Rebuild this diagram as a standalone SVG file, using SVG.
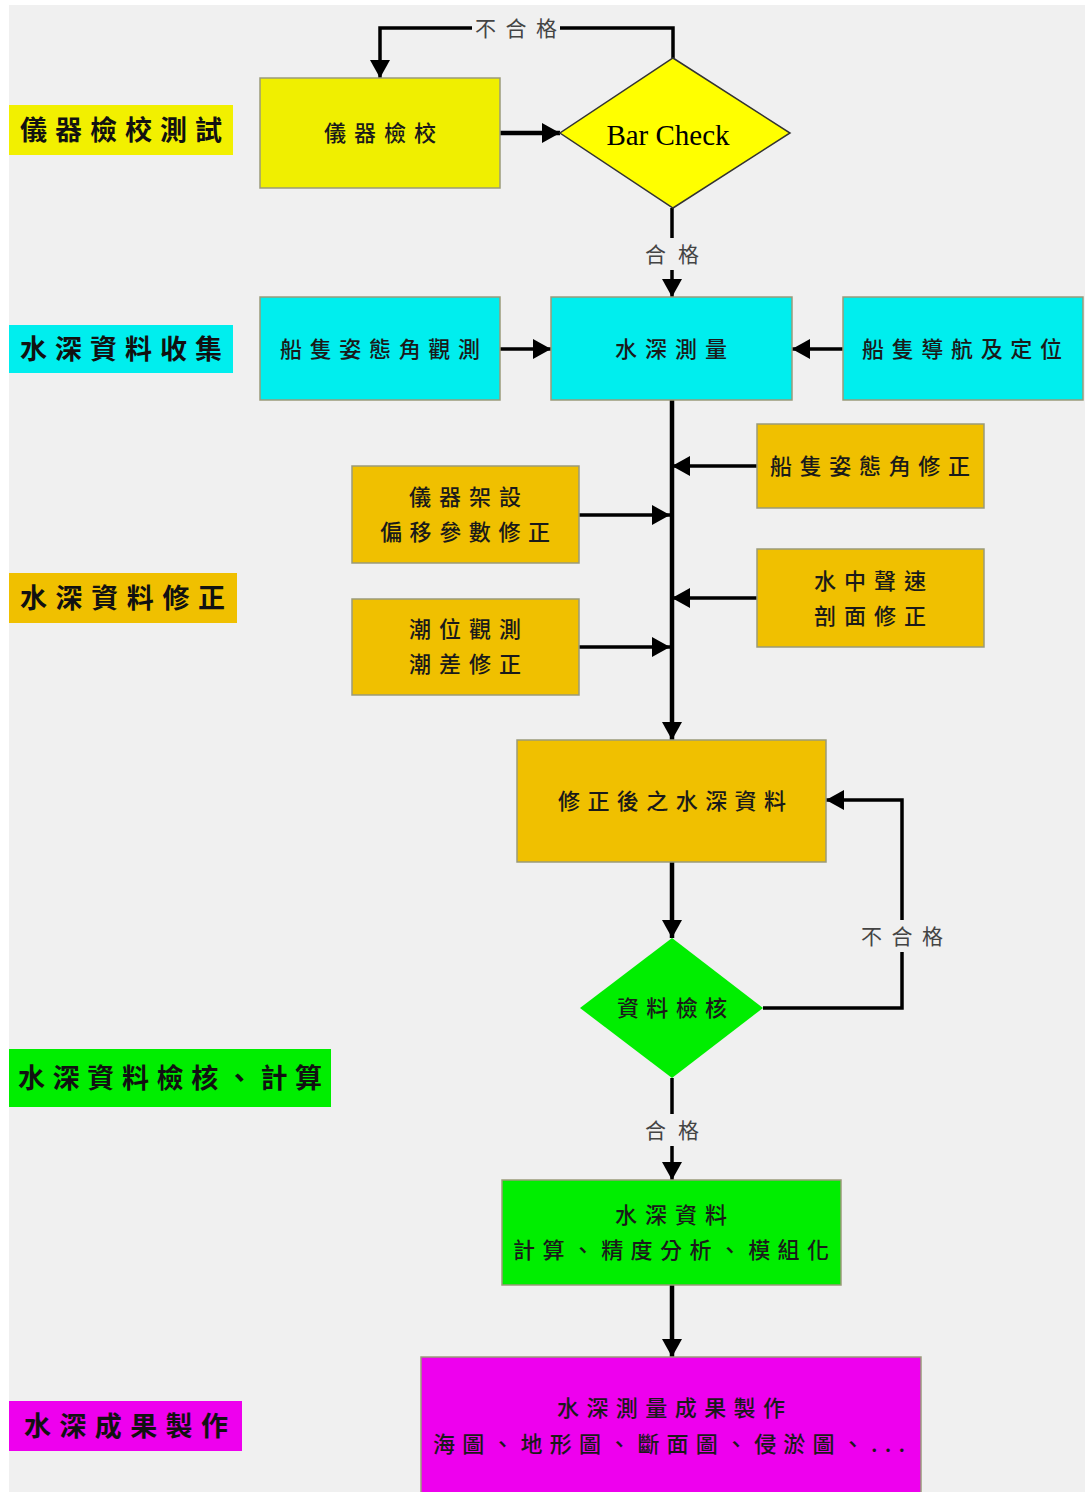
<svg xmlns="http://www.w3.org/2000/svg" width="1085" height="1492" viewBox="0 0 1085 1492">
<style>
.box{stroke:#9a9a7a;stroke-width:1.5}
.lbl{font-family:"Noto Sans CJK TC","Noto Sans CJK SC",sans-serif;font-size:27px;font-weight:bold;fill:#111}
.t{font-family:"Noto Sans CJK TC","Noto Sans CJK SC",sans-serif;font-size:22px;font-weight:500;fill:#1a1a1a;text-anchor:middle}
.cl{font-family:"Noto Sans CJK TC","Noto Sans CJK SC",sans-serif;font-size:21px;fill:#444;text-anchor:middle}
.ln{fill:none;stroke:#000;stroke-width:3.5}
.thick{stroke-width:4.5}
.bg{fill:#f0f0f0}
</style>
<defs>
<marker id="ah" markerUnits="userSpaceOnUse" markerWidth="18" markerHeight="20" refX="18" refY="10" orient="auto">
<path d="M0,0 L18,10 L0,20 z" fill="#000"/>
</marker>
</defs>
<rect width="1085" height="1492" fill="#ffffff"/>
<rect x="9" y="5" width="1076" height="1487" fill="#f0f0f0"/>

<!-- stage labels -->
<g id="label-1"><rect x="9" y="105" width="224" height="50" fill="#f2f000"/><text class="lbl" x="20" y="140" textLength="202" lengthAdjust="spacing">儀器檢校測試</text></g>
<g id="label-2"><rect x="9" y="325" width="224" height="48" fill="#00eeee"/><text class="lbl" x="20" y="359" textLength="202" lengthAdjust="spacing">水深資料收集</text></g>
<g id="label-3"><rect x="9" y="573" width="228" height="50" fill="#f0c000"/><text class="lbl" x="20" y="608" textLength="205" lengthAdjust="spacing">水深資料修正</text></g>
<g id="label-4"><rect x="9" y="1049" width="322" height="58" fill="#00ee00"/><text class="lbl" x="18" y="1088" textLength="304" lengthAdjust="spacing">水深資料檢核、計算</text></g>
<g id="label-5"><rect x="9" y="1401" width="233" height="50" fill="#ee00ee"/><text class="lbl" x="24" y="1436" textLength="204" lengthAdjust="spacing">水深成果製作</text></g>

<!-- connectors -->
<g id="connectors">
<path class="ln thick" d="M500,133 H560" marker-end="url(#ah)"/>
<path class="ln" d="M673,58 V28 H380 V78" marker-end="url(#ah)"/>
<path class="ln" d="M672,208 V297" marker-end="url(#ah)"/>
<path class="ln" d="M500,349 H551" marker-end="url(#ah)"/>
<path class="ln" d="M843,349 H792" marker-end="url(#ah)"/>
<path class="ln thick" d="M672,400 V740" marker-end="url(#ah)"/>
<path class="ln" d="M757,466 H672" marker-end="url(#ah)"/>
<path class="ln" d="M579,515 H670" marker-end="url(#ah)"/>
<path class="ln" d="M757,598 H672" marker-end="url(#ah)"/>
<path class="ln" d="M579,647 H670" marker-end="url(#ah)"/>
<path class="ln thick" d="M672,862 V938" marker-end="url(#ah)"/>
<path class="ln" d="M763,1008 H902 V800 H826" marker-end="url(#ah)"/>
<path class="ln" d="M672,1078 V1180" marker-end="url(#ah)"/>
<path class="ln thick" d="M672,1285 V1357" marker-end="url(#ah)"/>
<rect class="bg" x="472" y="14" width="88" height="28"/>
<text class="cl" x="516" y="36" textLength="82" lengthAdjust="spacing">不合格</text>
<rect class="bg" x="642" y="238" width="60" height="32"/>
<text class="cl" x="672" y="262" textLength="54" lengthAdjust="spacing">合格</text>
<rect class="bg" x="856" y="920" width="92" height="32"/>
<text class="cl" x="902" y="944" textLength="82" lengthAdjust="spacing">不合格</text>
<rect class="bg" x="642" y="1114" width="60" height="32"/>
<text class="cl" x="672" y="1138" textLength="54" lengthAdjust="spacing">合格</text>
</g>

<!-- nodes -->
<g id="node-calib"><rect class="box" x="260" y="78" width="240" height="110" fill="#f0ef00"/><text class="t" x="380" y="141" textLength="112" lengthAdjust="spacing">儀器檢校</text></g>
<g id="node-barcheck"><polygon points="673,58 790,133 673,208 560,133" fill="#ffff00" stroke="#333" stroke-width="1.5"/><text x="668" y="145" font-family="'Liberation Serif',serif" font-size="29" fill="#000" text-anchor="middle">Bar Check</text></g>
<g id="node-attitude-obs"><rect class="box" x="260" y="297" width="240" height="103" fill="#00eeee"/><text class="t" x="380" y="357" textLength="200" lengthAdjust="spacing">船隻姿態角觀測</text></g>
<g id="node-depth"><rect class="box" x="551" y="297" width="241" height="103" fill="#00eeee"/><text class="t" x="671" y="357" textLength="112" lengthAdjust="spacing">水深測量</text></g>
<g id="node-nav"><rect class="box" x="843" y="297" width="240" height="103" fill="#00eeee"/><text class="t" x="962" y="357" textLength="200" lengthAdjust="spacing">船隻導航及定位</text></g>
<g id="node-attitude-corr"><rect class="box" x="757" y="424" width="227" height="84" fill="#f0c000"/><text class="t" x="870" y="474" textLength="200" lengthAdjust="spacing">船隻姿態角修正</text></g>
<g id="node-offset"><rect class="box" x="352" y="466" width="227" height="97" fill="#f0c000"/><text class="t" x="465" y="505" textLength="112" lengthAdjust="spacing">儀器架設</text><text class="t" x="465" y="540" textLength="170" lengthAdjust="spacing">偏移參數修正</text></g>
<g id="node-sound"><rect class="box" x="757" y="549" width="227" height="98" fill="#f0c000"/><text class="t" x="870" y="589" textLength="112" lengthAdjust="spacing">水中聲速</text><text class="t" x="870" y="624" textLength="112" lengthAdjust="spacing">剖面修正</text></g>
<g id="node-tide"><rect class="box" x="352" y="599" width="227" height="96" fill="#f0c000"/><text class="t" x="465" y="637" textLength="112" lengthAdjust="spacing">潮位觀測</text><text class="t" x="465" y="672" textLength="112" lengthAdjust="spacing">潮差修正</text></g>
<g id="node-corrected"><rect class="box" x="517" y="740" width="309" height="122" fill="#f0c000"/><text class="t" x="672" y="809" textLength="228" lengthAdjust="spacing">修正後之水深資料</text></g>
<g id="node-check"><polygon points="672,938 763,1008 672,1078 580,1008" fill="#00ee00"/><text class="t" x="672" y="1016" textLength="110" lengthAdjust="spacing">資料檢核</text></g>
<g id="node-compute"><rect class="box" x="502" y="1180" width="339" height="105" fill="#00ee00"/><text class="t" x="671" y="1223" textLength="112" lengthAdjust="spacing">水深資料</text><text class="t" x="671" y="1258" textLength="316" lengthAdjust="spacing">計算、精度分析、模組化</text></g>
<g id="node-product"><rect class="box" x="421" y="1357" width="500" height="140" fill="#ee00ee"/><text class="t" x="671" y="1416" textLength="228" lengthAdjust="spacing">水深測量成果製作</text><text class="t" x="669" y="1452" textLength="472" lengthAdjust="spacing">海圖、地形圖、斷面圖、侵淤圖、...</text></g>
</svg>
